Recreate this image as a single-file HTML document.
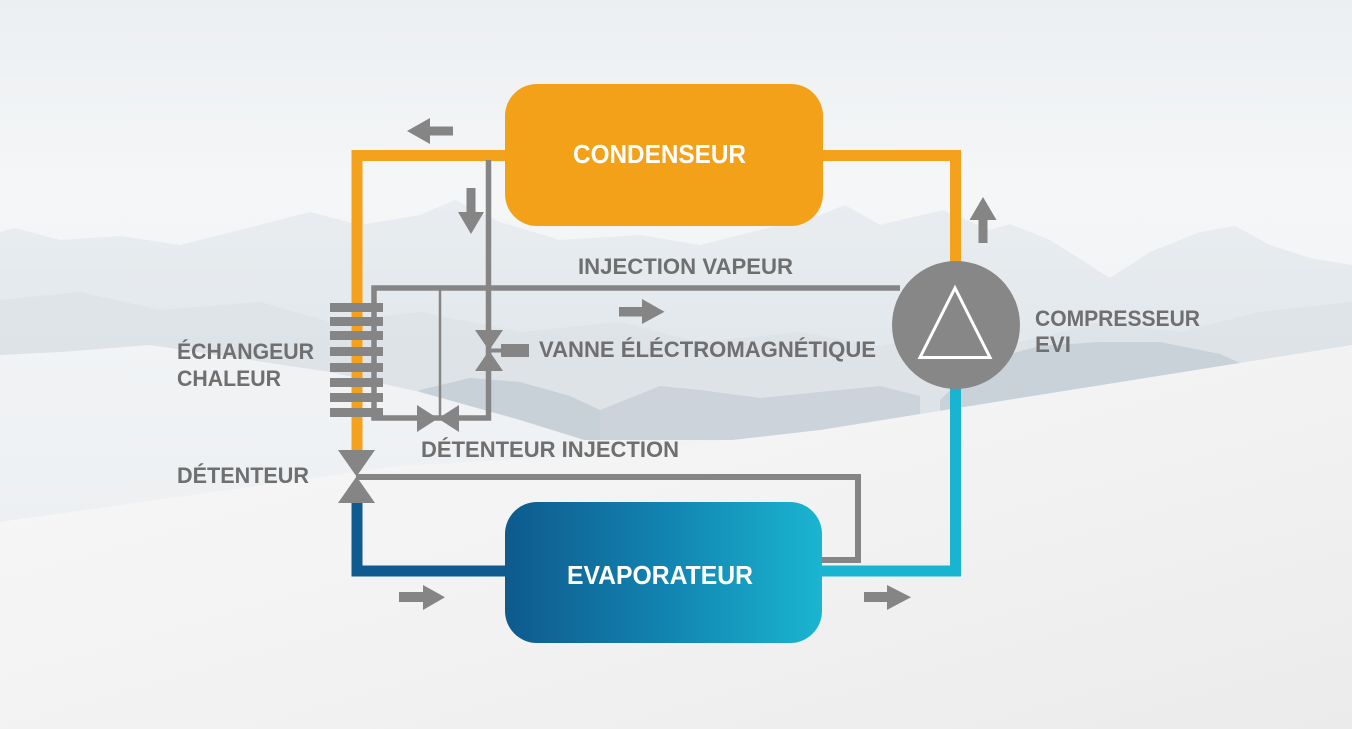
<!DOCTYPE html>
<html><head><meta charset="utf-8"><style>
html,body{margin:0;padding:0;background:#f3f5f7;}
svg{display:block;}
text{font-family:"Liberation Sans",Arial,sans-serif;font-weight:bold;}
</style></head><body>
<svg width="1352" height="729" viewBox="0 0 1352 729" xmlns="http://www.w3.org/2000/svg">
<defs>
<linearGradient id="sky" x1="0" y1="0" x2="0" y2="1">
<stop offset="0" stop-color="#eceff2"/><stop offset="0.25" stop-color="#f4f6f7"/><stop offset="0.5" stop-color="#f1f3f5"/><stop offset="1" stop-color="#eef0f2"/>
</linearGradient>
<linearGradient id="far" x1="0" y1="0" x2="0" y2="1">
<stop offset="0" stop-color="#e9edf0"/><stop offset="1" stop-color="#dfe5ea"/>
</linearGradient>
<linearGradient id="snow" x1="0" y1="0" x2="1" y2="1">
<stop offset="0" stop-color="#f8f8f8"/><stop offset="0.55" stop-color="#f2f2f2"/><stop offset="1" stop-color="#ebebeb"/>
</linearGradient>
<linearGradient id="hill" x1="0" y1="0" x2="0" y2="1">
<stop offset="0" stop-color="#f1f3f5"/><stop offset="1" stop-color="#edf0f2"/>
</linearGradient>
<linearGradient id="evap" x1="0" y1="0" x2="1" y2="0">
<stop offset="0" stop-color="#0e5a8d"/><stop offset="0.5" stop-color="#1283b0"/><stop offset="1" stop-color="#1ab5d0"/>
</linearGradient>
</defs>

<!-- background -->
<rect width="1352" height="729" fill="url(#sky)"/>
<polygon fill="url(#far)" points="0,232 15,228 60,240 120,236 180,245 240,230 310,212 360,225 420,215 455,200 500,222 560,240 640,235 700,245 760,230 820,215 845,205 880,225 943,210 990,230 1010,224 1050,240 1110,278 1150,252 1200,232 1235,226 1270,245 1310,258 1352,265 1352,430 0,430"/>
<polygon fill="#dbe1e6" opacity="0.7" points="0,300 80,292 160,310 260,302 330,322 420,312 520,332 620,322 700,342 800,332 880,346 960,330 1020,342 1100,322 1180,332 1260,312 1352,302 1352,430 0,430"/>
<polygon fill="#c9d1d8" points="385,425 420,390 470,378 520,382 570,396 600,410 600,440 385,440"/>
<polygon fill="#ccd3da" points="600,410 660,386 700,390 760,398 820,392 880,386 920,396 920,440 600,440"/>
<polygon fill="#c9d1d9" points="940,400 980,362 1040,346 1100,342 1160,342 1220,354 1260,372 1300,385 1352,378 1352,440 940,440"/>
<polygon fill="url(#hill)" points="0,355 60,352 150,345 250,360 330,372 420,392 520,420 610,448 560,462 400,466 0,522"/>
<polygon fill="url(#snow)" points="0,522 400,466 600,455 820,430 1352,345 1352,729 0,729"/>

<!-- orange pipe -->
<path d="M357,452 V155.5 H955.5 V270" fill="none" stroke="#f4a11b" stroke-width="11"/>
<!-- blue pipes -->
<path d="M357,500 V571 H510" fill="none" stroke="#0f5b8f" stroke-width="11"/>
<path d="M818,571 H955.5 V385" fill="none" stroke="#1ab4d3" stroke-width="11"/>

<!-- gray injection circuit -->
<path d="M488.5,160 V418 H374 V288 H900" fill="none" stroke="#858585" stroke-width="5.5"/>
<line x1="440" y1="288" x2="440" y2="418" stroke="#858585" stroke-width="2.5"/>
<path d="M356,477 H858 V560 H818" fill="none" stroke="#858585" stroke-width="6"/>

<!-- boxes -->
<rect x="505" y="84" width="318" height="142" rx="32" fill="#f4a11a"/>
<rect x="505" y="502" width="317" height="141" rx="32" fill="url(#evap)"/>

<!-- heat exchanger fins -->
<g fill="#858585">
<rect x="330" y="303" width="53" height="9"/>
<rect x="330" y="317" width="53" height="9"/>
<rect x="330" y="331" width="53" height="9"/>
<rect x="330" y="347" width="53" height="9"/>
<rect x="330" y="363" width="53" height="9"/>
<rect x="330" y="378" width="53" height="9"/>
<rect x="330" y="393" width="53" height="9"/>
<rect x="330" y="408" width="53" height="9"/>
</g>

<!-- valves -->
<g fill="#858585">
<polygon points="417,405 417,432 438,418.5"/>
<polygon points="459,405 459,432 438,418.5"/>
<polygon points="475,330 503,330 489,350.5"/>
<polygon points="475,371 503,371 489,350.5"/>
<rect x="489" y="348.5" width="14" height="4"/>
<rect x="501" y="344" width="28" height="13"/>
<polygon points="338,450 375,450 356.5,476.5"/>
<polygon points="338,503 375,503 356.5,476.5"/>
</g>

<!-- compressor -->
<circle cx="956" cy="325" r="64" fill="#878787"/>
<polygon points="955,288 920,357.5 990,357.5" fill="none" stroke="#ffffff" stroke-width="3"/>

<!-- arrows -->
<g fill="#858585">
<polygon points="453,126.5 430,126.5 430,118 407,131 430,144 430,135.5 453,135.5"/>
<polygon points="466.5,188 475.5,188 475.5,212 484,212 471,234 458,212 466.5,212"/>
<polygon points="619,307 642,307 642,299 664.5,311.7 642,324 642,316.5 619,316.5"/>
<polygon points="978.5,243 987.5,243 987.5,220 996.5,220 983,197 969.5,220 978.5,220"/>
<polygon points="399,592 423,592 423,585 445,597.2 423,610 423,602 399,602"/>
<polygon points="864,592 887,592 887,585 911,597.2 887,610 887,602 864,602"/>
</g>

<!-- labels -->
<text x="573" y="163" font-size="26" fill="#ffffff" textLength="173" lengthAdjust="spacingAndGlyphs">CONDENSEUR</text>
<text x="567" y="584" font-size="26" fill="#ffffff" textLength="186" lengthAdjust="spacingAndGlyphs">EVAPORATEUR</text>
<g fill="#6f6f6f" font-size="22">
<text x="578" y="274" textLength="215" lengthAdjust="spacingAndGlyphs">INJECTION VAPEUR</text>
<text x="539" y="357" textLength="337" lengthAdjust="spacingAndGlyphs">VANNE ÉLÉCTROMAGNÉTIQUE</text>
<text x="1035" y="326" textLength="165" lengthAdjust="spacingAndGlyphs">COMPRESSEUR</text>
<text x="1035" y="352" textLength="36" lengthAdjust="spacingAndGlyphs">EVI</text>
<text x="177" y="359" textLength="137" lengthAdjust="spacingAndGlyphs">ÉCHANGEUR</text>
<text x="177" y="386" textLength="104" lengthAdjust="spacingAndGlyphs">CHALEUR</text>
<text x="177" y="483" textLength="132" lengthAdjust="spacingAndGlyphs">DÉTENTEUR</text>
<text x="421" y="457" textLength="258" lengthAdjust="spacingAndGlyphs">DÉTENTEUR INJECTION</text>
</g>
</svg>
</body></html>
